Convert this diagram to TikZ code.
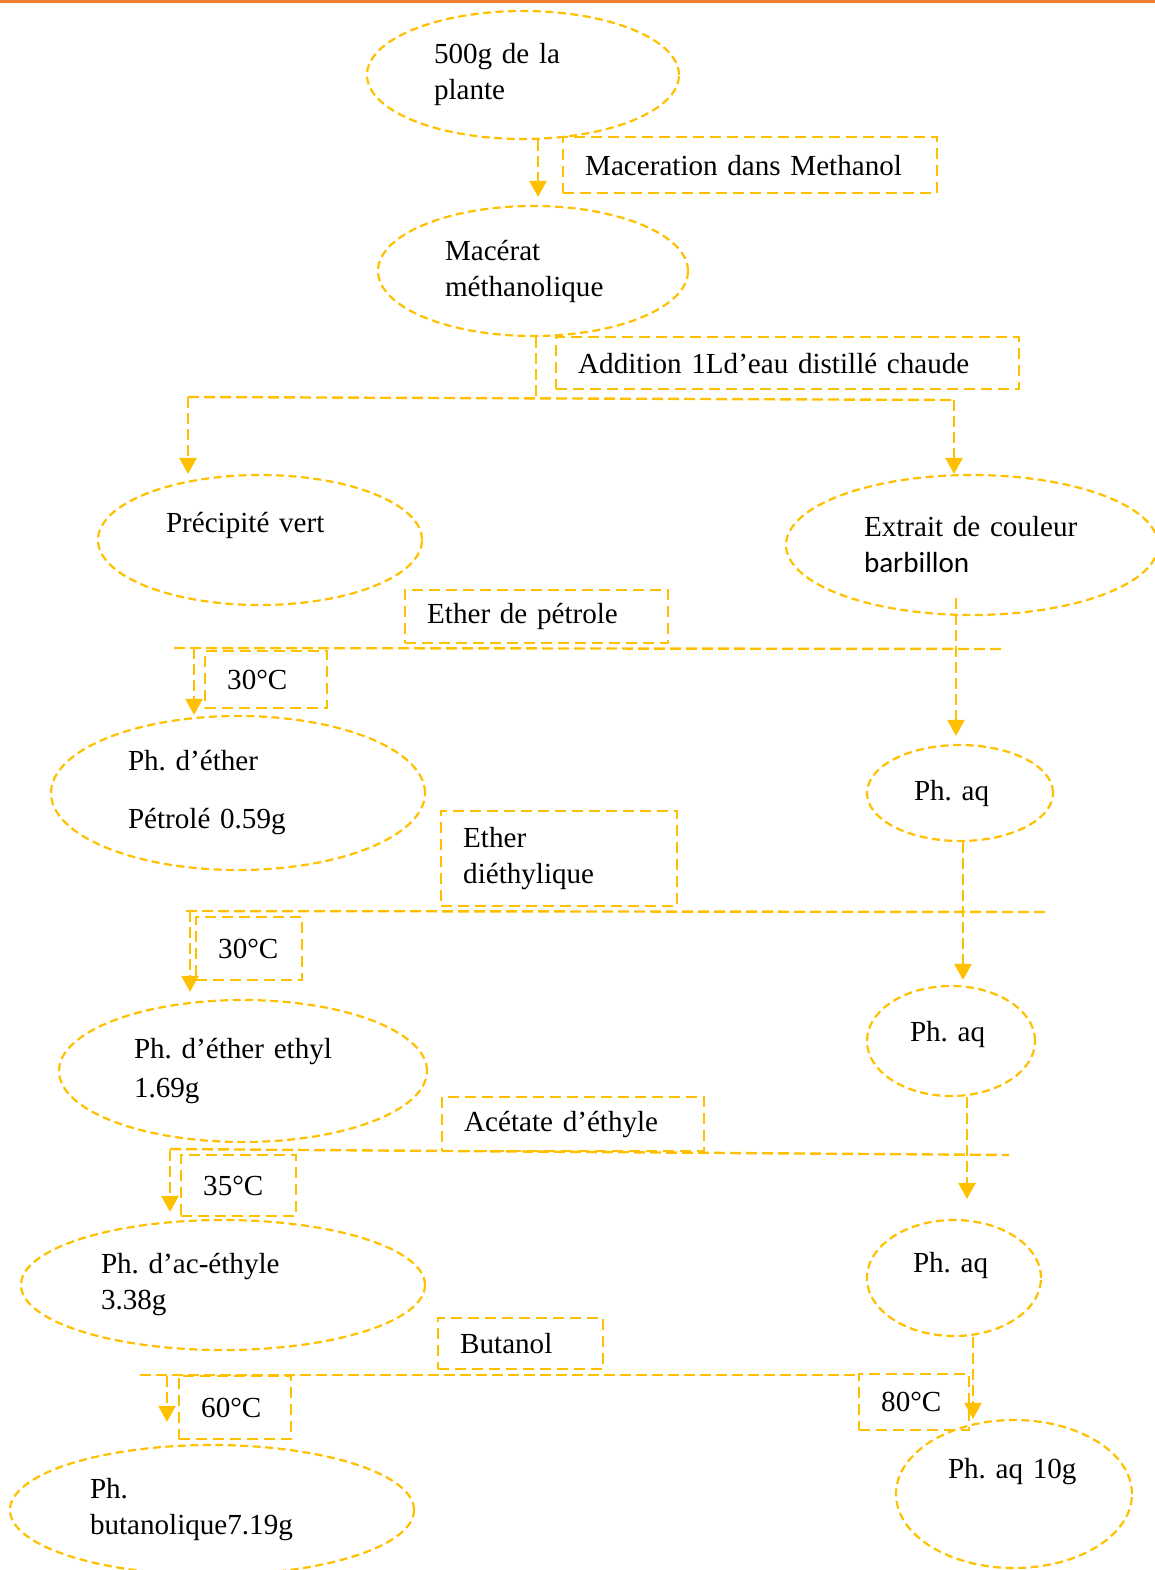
\documentclass[tikz,border=0pt]{standalone}
\usepackage{fontspec}
\setmainfont{Liberation Serif}
\newfontfamily\carlito{Carlito}
\usepackage{xcolor}
\usetikzlibrary{arrows.meta,positioning,shapes.geometric}
\definecolor{gold}{HTML}{FFC000}
\definecolor{bandorange}{HTML}{ED7D31}

\begin{document}
\frenchspacing
\begin{tikzpicture}[x=1pt, y=-1pt,
  every node/.append style={font=\fontsize{29.1}{36}\selectfont},
  phase/.style={ellipse, draw=gold, line width=2.2pt, dash pattern=on 8pt off 4.5pt, inner sep=0pt, align=left},
  stepbox/.style={rectangle, draw=gold, line width=2.4pt, dash pattern=on 11pt off 6pt, inner xsep=22pt, inner ysep=0pt, align=left, anchor=north west},
  link/.style={draw=gold, line width=2.4pt, dash pattern=on 11pt off 5pt},
  flow/.style={link, -{Triangle[width=17pt,length=16pt]}}]

  \useasboundingbox (0,0) rectangle (1155,1570);
  \clip (0,0) rectangle (1155,1570);
  \fill[bandorange] (0,0) rectangle (1155,3.5);

  % Define the phases (ellipses)
  \node[phase, minimum width=312pt, minimum height=128pt, text width=178pt] (pl) at (523,75) {500g de la\\plante};
  \node[phase, minimum width=310pt, minimum height=130pt, text width=176pt] (mac) at (533,271) {Macérat\\méthanolique};
  \node[phase, minimum width=324pt, minimum height=130pt, text width=188pt, text depth=35pt] (pv) at (260,540) {Précipité vert};
  \node[phase, minimum width=372pt, minimum height=140pt, text width=216pt] (ext) at (972,545) {Extrait de couleur\\{\carlito barbillon}};
  \node[phase, minimum width=374pt, minimum height=154pt, text width=220pt] (epe) at (238,793) {Ph. d’éther\\[22pt]Pétrolé 0.59g};
  \node[phase, minimum width=186pt, minimum height=96pt, text width=92pt] (aq1) at (960,793) {Ph. aq};
  \node[phase, minimum width=368pt, minimum height=142pt, text width=218pt] (eeth) at (243,1071) {Ph. d’éther ethyl\\[3pt]1.69g};
  \node[phase, minimum width=168pt, minimum height=110pt, text width=82pt, text depth=20pt] (aq2) at (951,1041) {Ph. aq};
  \node[phase, minimum width=174pt, minimum height=116pt, text width=82pt, text depth=31pt] (aq3) at (954,1278) {Ph. aq};
  \node[phase, minimum width=404pt, minimum height=130pt, text width=244pt] (ace) at (223,1285) {Ph. d’ac-éthyle\\3.38g};
  \node[phase, minimum width=404pt, minimum height=130pt, text width=244pt] (pbu) at (212,1510) {Ph.\\butanolique7.19g};
  \node[phase, minimum width=236pt, minimum height=148pt, text width=132pt, text depth=52pt] (aq4) at (1014,1494) {Ph. aq 10g};

  % Define the steps (boxes)
  \node[stepbox, text width=330pt, minimum height=56pt] (bmac) at (562,136) {Maceration dans Methanol};
  \node[stepbox, text width=419pt, minimum height=52pt] (badd) at (555,336) {Addition 1Ld’eau distillé chaude};
  \node[stepbox, text width=219pt, minimum height=53pt] (bep) at (404,589) {Ether de pétrole};
  \node[stepbox, text width=78pt, minimum height=57pt] (t1) at (204,650) {30°C};
  \node[stepbox, text width=192pt, minimum height=95pt] (bed) at (440,810) {Ether\\diéthylique};
  \node[stepbox, text width=62pt, minimum height=63pt] (t2) at (195,916) {30°C};
  \node[stepbox, text width=218pt, minimum height=54pt] (bac) at (441,1096) {Acétate d’éthyle};
  \node[stepbox, text width=71pt, minimum height=61pt] (t3) at (180,1154) {35°C};
  \node[stepbox, text width=121pt, minimum height=51pt] (bbu) at (437,1317) {Butanol};
  \node[stepbox, text width=68pt, minimum height=63pt] (t4) at (178,1375) {60°C};
  \node[stepbox, text width=66pt, minimum height=56pt] (t5) at (858,1373) {80°C};

  % Define coordinates for the splitting lines
  \coordinate (s1) at (536,400);
  \coordinate (s1l) at (188,397);
  \coordinate (s1r) at (954,400);
  \coordinate (s2l) at (174,648);
  \coordinate (s2r) at (1005,649);
  \coordinate (d2) at (194,648);
  \coordinate (s3l) at (186,911);
  \coordinate (s3r) at (1050,912);
  \coordinate (d3) at (190,911);
  \coordinate (s4l) at (170,1149);
  \coordinate (s4r) at (1009,1155);
  \coordinate (d4) at (170,1150);
  \coordinate (s5l) at (140,1375);
  \coordinate (d5) at (167,1376);

  % Draw lines and arrows between nodes
  \draw[flow, shorten >=8pt] ([xshift=15pt]pl.south) -- ([xshift=5pt]mac.north);
  \draw[link] ([xshift=3pt]mac.south) -- (s1);
  \draw[link] (s1l) -- (s1r);
  \draw[flow] (s1l) -- (s1l |- pv.north);
  \draw[flow] (s1r) -- (s1r |- ext.north);

  \draw[link] (s2l) -- (s2r);
  \draw[flow] (d2) -- (d2 |- epe.north);
  \draw[flow, shorten >=8pt] ([xshift=-16pt, yshift=18pt]ext.south) -- ([xshift=-4pt]aq1.north);

  \draw[link] (s3l) -- (s3r);
  \draw[flow, shorten >=7pt] (d3) -- (d3 |- eeth.north);
  \draw[flow, shorten >=5pt] ([xshift=3pt]aq1.south) -- ([xshift=12pt]aq2.north);

  \draw[link] (s4l) -- (s4r);
  \draw[flow, shorten >=7pt] (d4) -- (d4 |- ace.north);
  \draw[flow, shorten >=20pt] ([xshift=16pt]aq2.south) -- ([xshift=13pt]aq3.north);

  \draw[link] (s5l) -- (s5l -| t5.west);
  \draw[flow, shorten >=22pt] (d5) -- (d5 |- pbu.north);
  \draw[flow] ([xshift=19pt]aq3.south) -- ([xshift=19pt]aq3.south |- aq4.north);
\end{tikzpicture}
\end{document}
